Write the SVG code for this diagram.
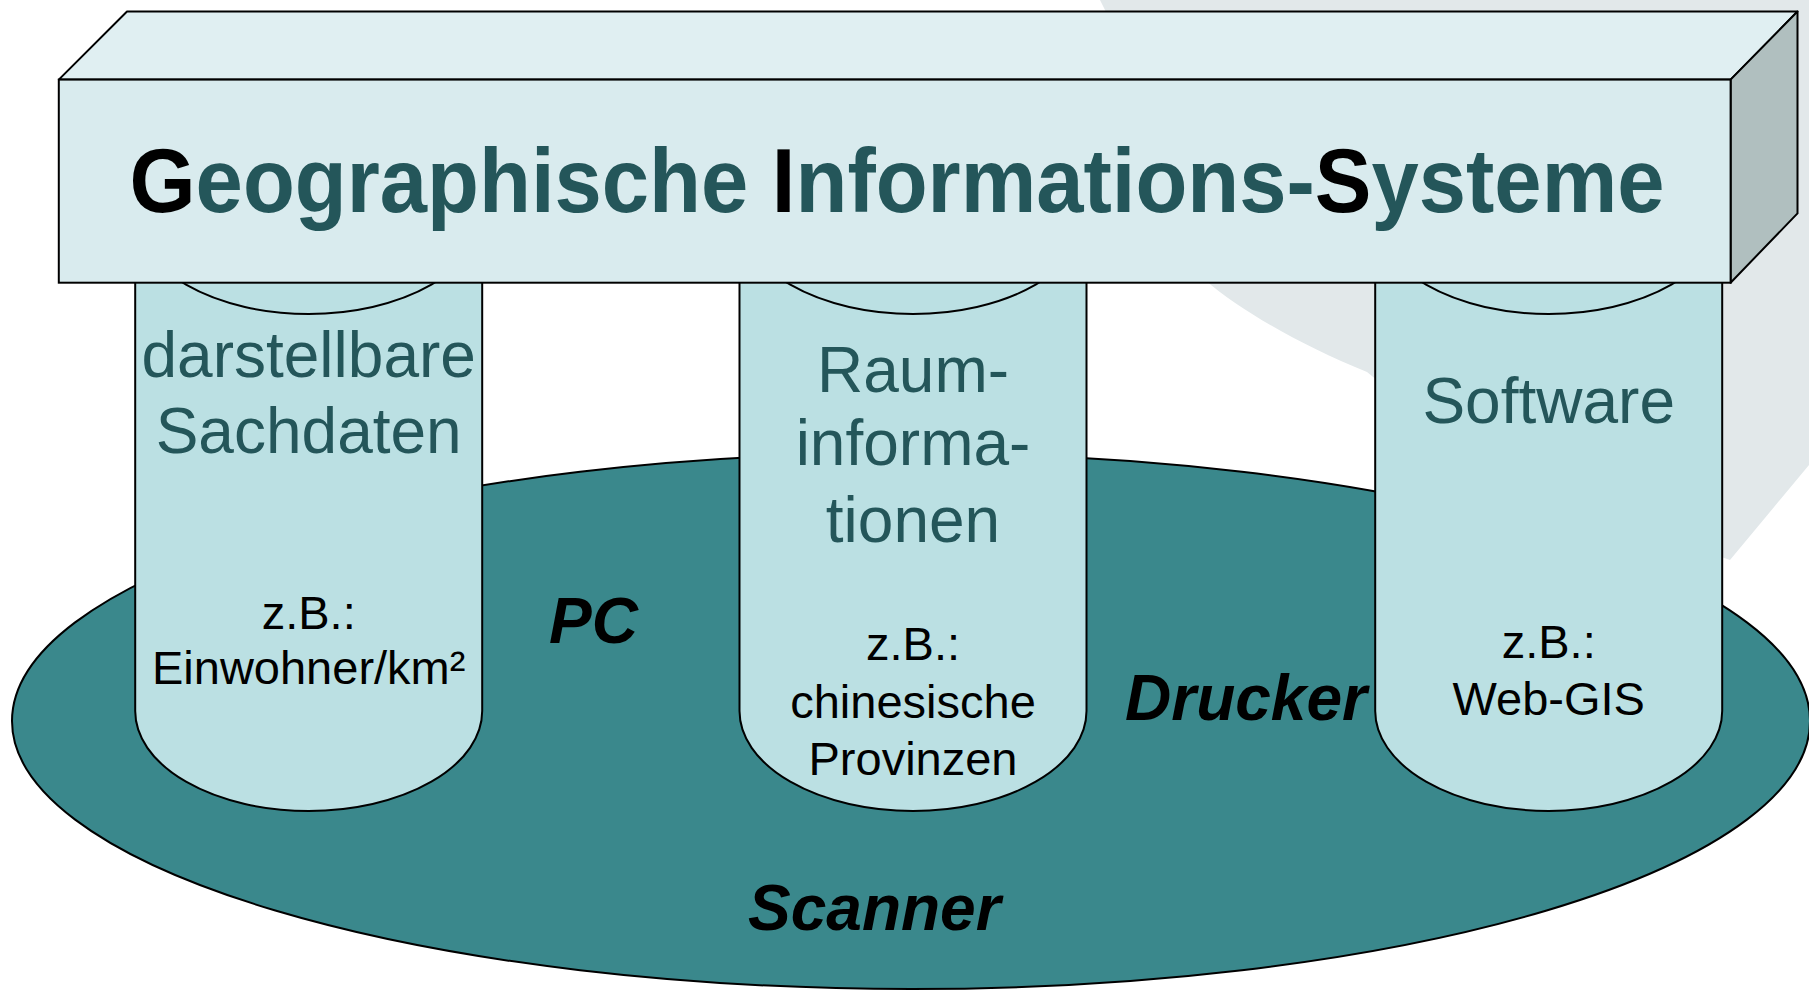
<svg xmlns="http://www.w3.org/2000/svg" width="1809" height="990" viewBox="0 0 1809 990">
  <style>
    .pillar { fill: #bbe0e3; stroke: #000; stroke-width: 2; }
    .head { font-family: "Liberation Sans", Arial, sans-serif; font-size: 64px; fill: #24565a; text-anchor: middle; }
    .sub { font-family: "Liberation Sans", Arial, sans-serif; font-size: 47px; fill: #000; text-anchor: middle; }
    .dev { font-family: "Liberation Sans", Arial, sans-serif; font-size: 64px; font-weight: bold; font-style: italic; fill: #000; }
    .title { font-family: "Liberation Sans", Arial, sans-serif; font-size: 90px; font-weight: bold; fill: #24565a; }
  </style>
  <rect width="1809" height="990" fill="#ffffff"/>
  <path id="globe" d="M 1100 0 H 1809 V 465 L 1730 560 L 1500 480 L 1367 372 C 1300 345 1240 310 1205 280 L 1150 100 Z" fill="#e2e8ea"/>
  <g id="base">
    <ellipse cx="911" cy="721" rx="899" ry="268" fill="#3a888c" stroke="#000" stroke-width="2"/>
    <text class="dev" x="549" y="643">PC</text>
    <text class="dev" x="1125" y="720">Drucker</text>
    <text class="dev" x="748" y="930">Scanner</text>
  </g>
  <g id="pillar-sachdaten">
    <path class="pillar" d="M 135.2 214 L 135.2 711 A 173.5 100 0 0 0 482.2 711 L 482.2 214 Z"/>
    <ellipse cx="308.7" cy="214" rx="173.5" ry="100" fill="#bbe0e3" stroke="#000" stroke-width="2"/>
    <text class="head" x="308.7" y="377">darstellbare</text>
    <text class="head" x="308.7" y="453">Sachdaten</text>
    <text class="sub" x="308.7" y="629">z.B.:</text>
    <text class="sub" x="308.7" y="684">Einwohner/km²</text>
  </g>
  <g id="pillar-raum">
    <path class="pillar" d="M 739.5 214 L 739.5 711 A 173.5 100 0 0 0 1086.5 711 L 1086.5 214 Z"/>
    <ellipse cx="913" cy="214" rx="173.5" ry="100" fill="#bbe0e3" stroke="#000" stroke-width="2"/>
    <text class="head" x="913" y="392">Raum-</text>
    <text class="head" x="913" y="465">informa-</text>
    <text class="head" x="913" y="542">tionen</text>
    <text class="sub" x="913" y="660">z.B.:</text>
    <text class="sub" x="913" y="718">chinesische</text>
    <text class="sub" x="913" y="775">Provinzen</text>
  </g>
  <g id="pillar-software">
    <path class="pillar" d="M 1375.2 214 L 1375.2 711 A 173.5 100 0 0 0 1722.2 711 L 1722.2 214 Z"/>
    <ellipse cx="1548.7" cy="214" rx="173.5" ry="100" fill="#bbe0e3" stroke="#000" stroke-width="2"/>
    <text class="head" x="1548.7" y="423">Software</text>
    <text class="sub" x="1548.7" y="658">z.B.:</text>
    <text class="sub" x="1548.7" y="715">Web-GIS</text>
  </g>
  <g id="roof">
    <polygon points="58.8,79.6 127,11.5 1797.5,11.5 1730.6,79.6" fill="#e0eff2" stroke="#000" stroke-width="2" stroke-linejoin="round"/>
    <polygon points="1730.6,79.6 1797.5,11.5 1797.5,213.4 1730.6,282.7" fill="#b0bfbf" stroke="#000" stroke-width="2" stroke-linejoin="round"/>
    <rect x="58.8" y="79.6" width="1671.8" height="203.1" fill="#d9ebee" stroke="#000" stroke-width="2"/>
    <text class="title" x="897" y="212" text-anchor="middle" textLength="1535" lengthAdjust="spacingAndGlyphs"><tspan fill="#000">G</tspan>eographische <tspan fill="#000">I</tspan>nformations-<tspan fill="#000">S</tspan>ysteme</text>
  </g>
  <g id="connectors"/>
</svg>
